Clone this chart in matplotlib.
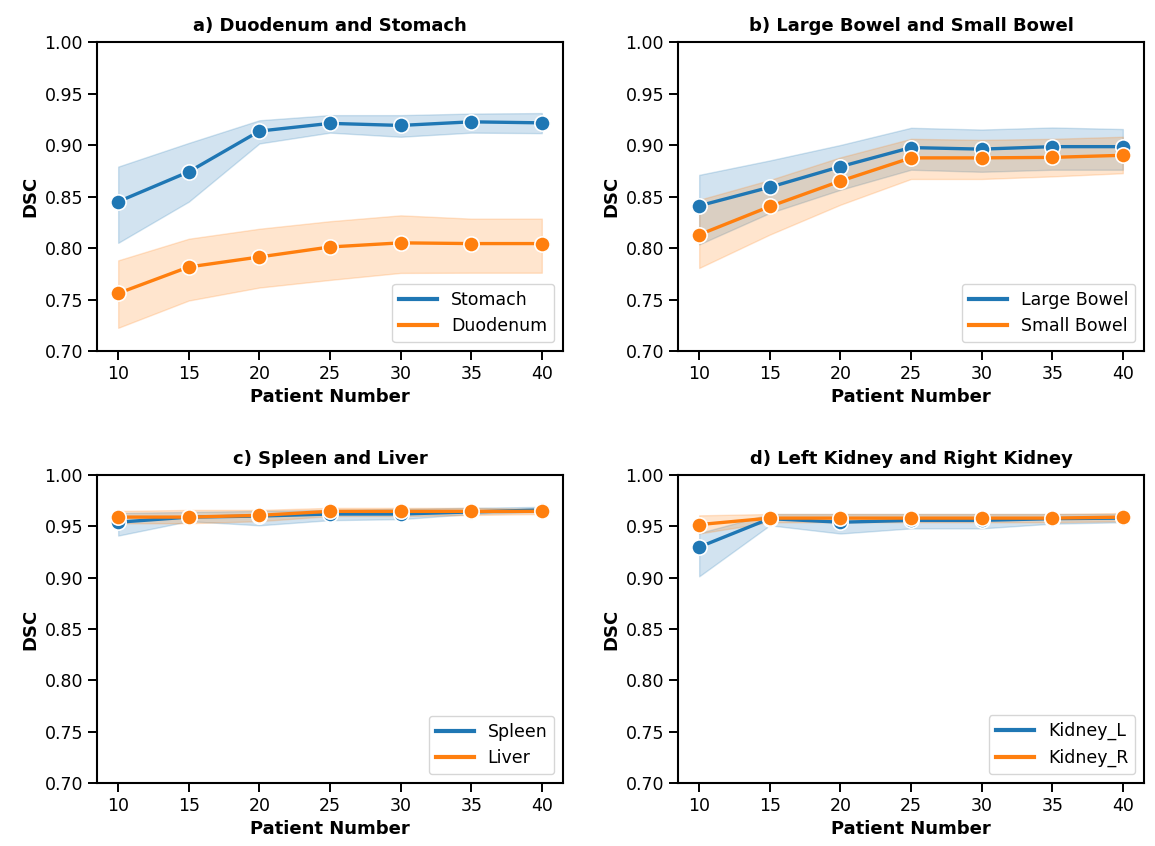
import matplotlib
matplotlib.use('Agg')
import matplotlib.pyplot as plt
import numpy as np

patients = [10, 15, 20, 25, 30, 35, 40]

# a) Duodenum and Stomach
stomach = [0.845, 0.874, 0.9135, 0.921, 0.919, 0.9225, 0.9215]
stomach_lo = [0.805, 0.845, 0.9015, 0.912, 0.908, 0.912, 0.9115]
stomach_hi = [0.879, 0.902, 0.924, 0.929, 0.929, 0.9305, 0.931]
duodenum = [0.756, 0.7816, 0.7913, 0.801, 0.805, 0.8043, 0.8043]
duodenum_lo = [0.7225, 0.749, 0.7616, 0.769, 0.7758, 0.776, 0.776]
duodenum_hi = [0.788, 0.809, 0.8187, 0.826, 0.8317, 0.8285, 0.8285]

# b) Large Bowel and Small Bowel
large_bowel = [0.841, 0.859, 0.879, 0.8975, 0.896, 0.8984, 0.8984]
large_bowel_lo = [0.8035, 0.834, 0.8565, 0.876, 0.874, 0.876, 0.876]
large_bowel_hi = [0.871, 0.885, 0.900, 0.9167, 0.915, 0.917, 0.9155]
small_bowel = [0.8129, 0.8403, 0.865, 0.8875, 0.8875, 0.888, 0.890]
small_bowel_lo = [0.7806, 0.813, 0.842, 0.867, 0.867, 0.8695, 0.8726]
small_bowel_hi = [0.8468, 0.866, 0.888, 0.906, 0.905, 0.906, 0.908]

# c) Spleen and Liver
spleen = [0.954, 0.959, 0.960, 0.962, 0.962, 0.964, 0.966]
spleen_lo = [0.941, 0.955, 0.951, 0.956, 0.957, 0.962, 0.964]
spleen_hi = [0.963, 0.964, 0.965, 0.966, 0.967, 0.968, 0.969]
liver = [0.959, 0.959, 0.9607, 0.9646, 0.9646, 0.9646, 0.9646]
liver_lo = [0.953, 0.953, 0.955, 0.960, 0.960, 0.961, 0.962]
liver_hi = [0.965, 0.966, 0.966, 0.968, 0.968, 0.968, 0.967]

# d) Left Kidney and Right Kidney
kidney_l = [0.9298, 0.9575, 0.954, 0.9558, 0.9558, 0.9575, 0.958]
kidney_l_lo = [0.9013, 0.951, 0.943, 0.948, 0.948, 0.9526, 0.954]
kidney_l_hi = [0.9435, 0.962, 0.962, 0.962, 0.962, 0.962, 0.962]
kidney_r = [0.9517, 0.958, 0.958, 0.958, 0.958, 0.958, 0.959]
kidney_r_lo = [0.943, 0.954, 0.954, 0.954, 0.954, 0.954, 0.955]
kidney_r_hi = [0.9607, 0.962, 0.962, 0.962, 0.962, 0.962, 0.963]

panels = [
    ('a) Duodenum and Stomach',
     [('Stomach', stomach, stomach_lo, stomach_hi),
      ('Duodenum', duodenum, duodenum_lo, duodenum_hi)]),
    ('b) Large Bowel and Small Bowel',
     [('Large Bowel', large_bowel, large_bowel_lo, large_bowel_hi),
      ('Small Bowel', small_bowel, small_bowel_lo, small_bowel_hi)]),
    ('c) Spleen and Liver',
     [('Spleen', spleen, spleen_lo, spleen_hi),
      ('Liver', liver, liver_lo, liver_hi)]),
    ('d) Left Kidney and Right Kidney',
     [('Kidney_L', kidney_l, kidney_l_lo, kidney_l_hi),
      ('Kidney_R', kidney_r, kidney_r_lo, kidney_r_hi)]),
]

colors = ['#1f77b4', '#ff7f0e']

fig = plt.figure(figsize=(11.55, 8.46), dpi=100)
W, H = 1155, 846
boxes = [(97, 42, 563, 351), (678, 42, 1144, 351),
         (97, 475, 563, 783), (678, 475, 1144, 783)]

for (title, series), (x0, y0, x1, y1) in zip(panels, boxes):
    ax = fig.add_axes([x0 / W, 1 - y1 / H, (x1 - x0) / W, (y1 - y0) / H])
    for (name, mean, lo, hi), c in zip(series, colors):
        ax.fill_between(patients, lo, hi, color=c, alpha=0.2)
        ax.plot(patients, mean, color=c, lw=2.4, marker='o', markersize=11,
                markeredgecolor='white', markeredgewidth=1.2, label=name)
    ax.set_ylim(0.70, 1.00)
    ax.set_xlim(8.5, 41.5)
    ax.set_xticks(patients)
    ax.set_yticks(np.arange(0.70, 1.001, 0.05))
    ax.tick_params(labelsize=12.5, width=1.4, length=6.5)
    for sp in ax.spines.values():
        sp.set_linewidth(1.5)
    ax.set_title(title, fontsize=13, fontweight='bold', pad=8)
    ax.set_xlabel('Patient Number', fontsize=13, fontweight='bold')
    ax.set_ylabel('DSC', fontsize=13, fontweight='bold')
    leg = ax.legend(loc='lower right', fontsize=12.5, handlelength=2.2)
    for line in leg.get_lines():
        line.set_marker('')
        line.set_linewidth(3)

plt.savefig('out.png', dpi=100)
